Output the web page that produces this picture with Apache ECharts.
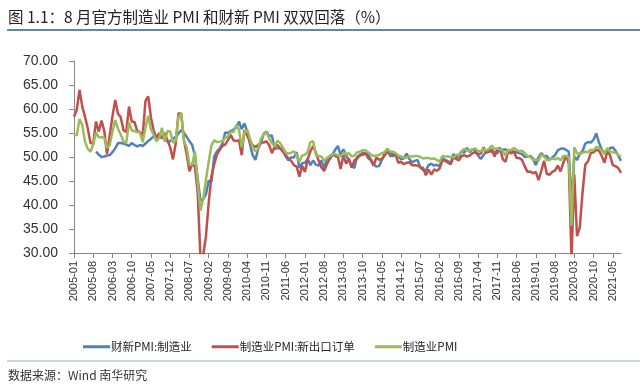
<!DOCTYPE html>
<html>
<head>
<meta charset="utf-8">
<script src="https://cdn.jsdelivr.net/npm/echarts@6/dist/echarts.min.js"></script>
<style>
html,body{margin:0;padding:0;background:#fff;}
#c{width:640px;height:387px;}
</style>
</head>
<body>
<div id="c"></div>
<script>
// Categories: months 2005-01 .. 2021-08
var categories = [];
for (var y = 2005; y <= 2021; y++) {
  for (var m = 1; m <= 12; m++) {
    if (y === 2021 && m > 8) break;
    categories.push(y + '-' + (m < 10 ? '0' + m : m));
  }
}

var seriesNames = ['财新PMI:制造业', '制造业PMI:新出口订单', '制造业PMI'];

// 财新PMI:制造业
var caixinPMI = [
  null, null, null, null, null, null, null, null, 51.1, 50.5, 50.0, 50.1,
  50.3, 50.4, 51.0, 51.8, 52.9, 52.9, 52.8, 52.6, 52.3, 52.9, 52.5, 52.2,
  52.5, 52.3, 52.8, 53.3, 53.8, 54.3, 54.3, 54.0, 54.2, 54.0, 53.2, 53.3,
  53.8, 54.2, 54.9, 55.6, 55.0, 54.2, 53.3, 52.5, 50.2, 45.5, 40.9, 41.2,
  42.2, 45.1, 44.8, 50.1, 51.2, 51.8, 52.8, 55.1, 55.0, 55.4, 55.7, 56.1,
  57.4, 55.8, 57.0, 55.4, 52.7, 50.4, 49.4, 51.7, 52.9, 54.8, 55.3, 54.4,
  54.5, 51.7, 51.8, 51.8, 51.6, 50.1, 49.3, 49.9, 49.9, 51.0, 47.7, 48.7,
  48.8, 49.6, 48.3, 49.3, 48.4, 48.2, 49.3, 47.6, 49.8, 49.5, 50.5, 51.5,
  52.3, 50.4, 51.6, 50.4, 49.2, 48.2, 47.7, 50.1, 50.2, 50.9, 50.8, 50.5,
  49.5, 48.5, 48.0, 48.1, 49.4, 50.7, 51.7, 50.2, 50.2, 50.4, 50.0, 49.6,
  49.7, 50.7, 49.6, 48.9, 49.2, 49.4, 47.8, 47.3, 47.2, 48.3, 48.6, 48.2,
  48.4, 48.0, 49.7, 49.4, 49.2, 48.6, 50.6, 50.0, 50.1, 51.2, 50.9, 51.9,
  51.0, 51.7, 51.2, 50.3, 49.6, 50.4, 51.1, 51.6, 51.0, 51.0, 50.8, 51.5,
  51.5, 51.6, 51.0, 51.1, 51.1, 51.0, 50.8, 50.6, 50.0, 50.1, 50.2, 49.7,
  48.3, 49.9, 50.8, 50.2, 50.2, 49.4, 49.9, 50.4, 51.4, 51.7, 51.8, 51.5,
  51.1, 40.3, 50.1, 49.4, 50.7, 51.2, 52.8, 53.1, 53.0, 53.6, 54.9, 53.0,
  51.5, 50.9, 50.6, 51.9, 52.0, 51.3, 50.3, 49.2
];

// 制造业PMI:新出口订单
var newExportOrders = [
  58.4, 59.8, 64.0, 60.5, 58.4, 56.0, 52.9, 52.8, 57.4, 55.3, 57.6, 55.5,
  50.6, 54.5, 58.5, 61.9, 59.0, 58.3, 55.6, 55.2, 60.5, 57.4, 57.3, 55.4,
  55.2, 54.5, 61.7, 62.6, 58.2, 55.5, 54.0, 55.0, 53.8, 55.0, 53.5, 52.0,
  49.5, 52.8, 59.1, 59.0, 53.5, 50.5, 47.0, 48.5, 48.0, 42.5, 29.0, 29.5,
  33.5, 40.5, 46.0, 48.5, 50.5, 51.5, 52.3, 52.6, 53.5, 54.6, 53.5, 53.3,
  53.5, 50.4, 55.6, 54.5, 53.3, 52.5, 52.1, 52.5, 53.0, 53.0, 53.3, 52.5,
  50.8, 52.2, 52.5, 51.8, 51.1, 50.4, 49.7, 49.2, 48.3, 48.0, 45.9, 48.2,
  46.9, 49.5, 51.2, 52.3, 50.9, 49.2, 47.8, 47.1, 48.5, 49.6, 50.6, 50.2,
  50.0, 47.5, 50.4, 48.6, 49.7, 47.8, 49.3, 49.7, 50.5, 50.4, 50.8, 49.8,
  49.3, 48.2, 49.9, 49.4, 49.6, 50.3, 51.1, 50.8, 50.6, 50.5, 48.8, 49.0,
  48.5, 48.8, 48.9, 48.3, 48.3, 48.2, 47.9, 47.7, 46.2, 47.4, 46.3, 47.4,
  47.1, 47.6, 49.3, 49.2, 48.8, 48.5, 49.9, 49.6, 49.3, 50.2, 50.4, 50.1,
  50.3, 50.8, 51.0, 50.6, 50.7, 52.0, 50.9, 51.1, 51.6, 50.1, 51.6, 51.9,
  49.5, 49.0, 51.3, 50.7, 51.2, 49.8, 49.8, 49.4, 48.0, 46.9, 47.0, 46.6,
  46.9, 45.2, 47.1, 49.2, 46.5, 46.3, 46.9, 47.2, 48.2, 47.0, 48.8, 50.3,
  48.7, 28.7, 46.4, 33.5, 35.3, 42.6, 48.4, 49.1, 50.8, 51.0, 51.5, 51.3,
  50.2, 48.8, 51.2, 50.4, 48.3, 48.1, 47.7, 46.7
];

// 制造业PMI
var officialPMI = [
  54.7, 54.5, 57.9, 56.7, 53.2, 51.7, 51.1, 52.6, 55.1, 54.1, 54.1, 54.0,
  51.9, 52.5, 55.3, 57.7, 55.9, 54.7, 53.3, 52.9, 57.2, 55.5, 55.4, 55.2,
  55.1, 53.1, 56.1, 58.6, 55.8, 54.6, 53.3, 54.0, 56.1, 53.2, 55.4, 55.3,
  53.0, 53.4, 58.4, 59.2, 53.3, 52.0, 48.4, 48.4, 51.2, 44.6, 38.8, 41.2,
  45.3, 49.0, 52.4, 53.5, 53.1, 53.2, 53.3, 54.0, 54.3, 55.2, 55.2, 56.6,
  55.8, 52.0, 55.1, 55.7, 53.9, 52.1, 51.2, 51.7, 53.8, 54.7, 55.2, 53.9,
  52.9, 52.2, 53.4, 52.9, 52.0, 50.9, 50.7, 50.9, 51.2, 50.4, 49.0, 50.3,
  50.5, 51.0, 53.1, 53.3, 50.4, 50.2, 50.1, 49.2, 49.8, 50.2, 50.6, 50.6,
  50.4, 50.1, 50.9, 50.6, 50.8, 50.1, 50.3, 51.0, 51.1, 51.4, 51.4, 51.0,
  50.5, 50.2, 50.3, 50.4, 50.8, 51.0, 51.7, 51.1, 51.1, 50.8, 50.3, 50.1,
  49.8, 49.9, 50.1, 50.1, 50.2, 50.2, 50.0, 49.7, 49.8, 49.8, 49.6, 49.7,
  49.4, 49.0, 50.2, 50.1, 50.1, 50.0, 49.9, 50.4, 50.4, 51.2, 51.7, 51.4,
  51.3, 51.6, 51.8, 51.2, 51.2, 51.7, 51.4, 51.7, 52.4, 51.6, 51.8, 51.6,
  51.3, 50.3, 51.5, 51.4, 51.9, 51.5, 51.2, 51.3, 50.8, 50.2, 50.0, 49.4,
  49.5, 49.2, 50.5, 50.1, 49.4, 49.4, 49.7, 49.5, 49.8, 49.3, 50.2, 50.2,
  50.0, 35.7, 52.0, 50.8, 50.6, 50.9, 51.1, 51.0, 51.5, 51.4, 52.1, 51.9,
  51.3, 50.6, 51.9, 51.1, 51.0, 50.9, 50.4, 50.1
];

var colors = ['#4F81BD', '#C0504D', '#9BBB59'];
var textFont = '"Noto Sans CJK SC", "Liberation Sans", sans-serif';

var chart = echarts.init(document.getElementById('c'), null, {renderer: 'canvas'});
chart.setOption({
  animation: false,
  backgroundColor: '#ffffff',
  color: colors,
  grid: {left: 74, right: 19, top: 61, bottom: 134, containLabel: false},
  legend: {
    left: 78,
    top: 336,
    itemWidth: 27,
    itemHeight: 3,
    itemGap: 20,
    icon: 'rect',
    textStyle: {fontFamily: textFont, fontSize: 11.5, color: '#262626', padding: [0, 0, 0, -4]},
    data: seriesNames
  },
  xAxis: {
    type: 'category',
    data: categories,
    boundaryGap: false,
    axisLine: {lineStyle: {color: '#868686', width: 1}},
    axisTick: {interval: 6, length: 5, lineStyle: {color: '#868686'}},
    axisLabel: {
      interval: 6,
      rotate: 90,
      margin: 8,
      fontFamily: '"Liberation Sans", sans-serif',
      fontSize: 11,
      color: '#333'
    },
    splitLine: {show: false}
  },
  yAxis: {
    type: 'value',
    min: 30,
    max: 70,
    interval: 5,
    axisLine: {show: true, lineStyle: {color: '#868686', width: 1}},
    axisTick: {show: true, length: 5, lineStyle: {color: '#868686'}},
    axisLabel: {
      margin: 16,
      fontFamily: '"Liberation Sans", sans-serif',
      fontSize: 14,
      color: '#333',
      formatter: function (v) { return v.toFixed(2); }
    },
    splitLine: {show: false}
  },
  graphic: [
    {type: 'text', left: 8, top: 9, style: {text: '图 1.1：8 月官方制造业 PMI 和财新 PMI 双双回落（%）', font: '15.5px ' + textFont, fill: '#222'}},
    {type: 'line', shape: {x1: 7, y1: 30, x2: 640, y2: 30}, style: {stroke: '#2E5E8A', lineWidth: 1.5}},
    {type: 'line', shape: {x1: 7, y1: 361, x2: 640, y2: 361}, style: {stroke: '#8FB0CF', lineWidth: 1}},
    {type: 'text', left: 8, top: 369, style: {text: '数据来源：Wind 南华研究', font: '12px ' + textFont, fill: '#333'}}
  ],
  series: [
    {name: seriesNames[0], type: 'line', data: caixinPMI, showSymbol: false, lineStyle: {width: 2.5}, connectNulls: false, clip: true},
    {name: seriesNames[1], type: 'line', data: newExportOrders, showSymbol: false, lineStyle: {width: 2.5}, clip: true},
    {name: seriesNames[2], type: 'line', data: officialPMI, showSymbol: false, lineStyle: {width: 2.5}, clip: true}
  ]
});
</script>
</body>
</html>
